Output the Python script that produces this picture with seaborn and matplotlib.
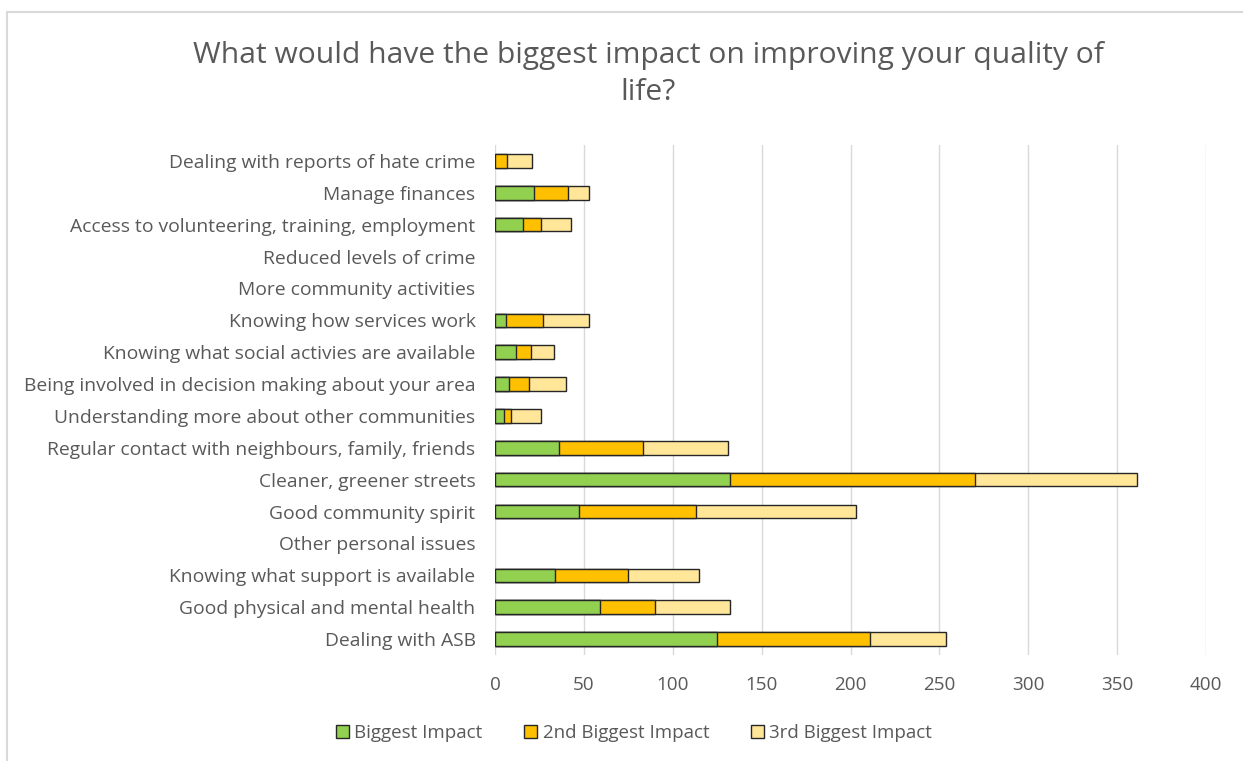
import matplotlib
matplotlib.use("Agg")
import matplotlib.pyplot as plt
import seaborn as sns
import pandas as pd
import numpy as np
from matplotlib.patches import Patch
from matplotlib.lines import Line2D

categories = [
    "Dealing with reports of hate crime",
    "Manage finances",
    "Access to volunteering, training, employment",
    "Reduced levels of crime",
    "More community activities",
    "Knowing how services work",
    "Knowing what social activies are available",
    "Being involved in decision making about your area",
    "Understanding more about other communities",
    "Regular contact with neighbours, family, friends",
    "Cleaner, greener streets",
    "Good community spirit",
    "Other personal issues",
    "Knowing what support is available",
    "Good physical and mental health",
    "Dealing with ASB",
]
biggest = [0, 22, 16, 0, 0, 6, 12, 8, 5, 36, 132, 47, 0, 34, 59, 125]
second = [7, 19, 10, 0, 0, 21, 8, 11, 4, 47, 138, 66, 0, 41, 31, 86]
third = [14, 12, 17, 0, 0, 26, 13, 21, 17, 48, 91, 90, 0, 40, 42, 43]
series_names = ["Biggest Impact", "2nd Biggest Impact", "3rd Biggest Impact"]
xticks = [0, 50, 100, 150, 200, 250, 300, 350, 400]

colors = ["#92D050", "#FFC000", "#FFE699"]
text_color = "#595959"

sns.set_theme(style="white")
plt.rcParams["font.family"] = ["Open Sans", "DejaVu Sans"]

df = pd.DataFrame({"cat": categories, "b": biggest, "s": second, "t": third})
df["c1"] = df["b"]
df["c2"] = df["b"] + df["s"]
df["c3"] = df["b"] + df["s"] + df["t"]

W, H = 1243, 761
fig = plt.figure(figsize=(W / 100, H / 100), dpi=100)
ax = fig.add_axes([495 / W, 1 - 655 / H, (1206 - 495) / W, (655 - 145) / H])

for col, c in zip(["c3", "c2", "c1"], [colors[2], colors[1], colors[0]]):
    sns.barplot(data=df, x=col, y="cat", order=categories, color=c, width=0.42,
                edgecolor="#262626", linewidth=1.0, saturation=1, ax=ax, orient="h")

for p in ax.patches:
    if p.get_width() <= 0:
        p.set_visible(False)

ax.set_xlim(0, 400)
ax.set_ylim(len(categories) - 0.5, -0.5)
ax.set_xticks(xticks)
ax.set_xticklabels([str(v) for v in xticks])
ax.set_xlabel("")
ax.set_ylabel("")
ax.grid(axis="x", color="#d9d9d9", linewidth=1.0)
ax.grid(axis="y", visible=False)
ax.set_axisbelow(True)
for s in ax.spines.values():
    s.set_visible(False)
ax.tick_params(axis="y", length=0, pad=14, labelsize=13.9, labelcolor=text_color)
ax.tick_params(axis="x", length=0, pad=15, labelsize=13.6, labelcolor=text_color)

fig.text(648 / W, 1 - 74 / H,
         "What would have the biggest impact on improving your quality of\nlife?",
         ha="center", va="center", fontsize=21.6, color=text_color, linespacing=1.38)

handles = [Patch(facecolor=c, edgecolor="#262626", linewidth=1.0) for c in colors]
fig.legend(handles, series_names, loc="center", bbox_to_anchor=(634 / W, 1 - 733 / H),
           ncol=3, frameon=False, fontsize=13.5, labelcolor=text_color,
           handlelength=0.7, handleheight=0.7, handletextpad=0.3, columnspacing=2.2)

fig.add_artist(Line2D([7 / W, 1], [1 - 12 / H, 1 - 12 / H], color="#d9d9d9", linewidth=1.5,
                      transform=fig.transFigure))
fig.add_artist(Line2D([7 / W, 7 / W], [0, 1 - 12 / H], color="#d9d9d9", linewidth=1.5,
                      transform=fig.transFigure))

fig.savefig("out.png", dpi=100, facecolor="white")
